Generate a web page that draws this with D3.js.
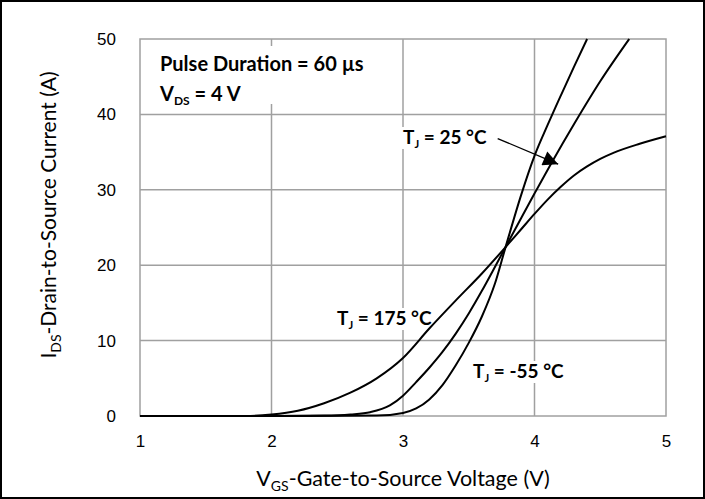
<!DOCTYPE html>
<html>
<head>
<meta charset="utf-8">
<script src="https://cdn.jsdelivr.net/npm/d3@7"></script>
<style>
  body { margin: 0; background: #fff; }
  text { fill: #000; }
</style>
</head>
<body>
<div id="chart"></div>
<script>
// tick values
const xTicks = [1, 2, 3, 4, 5];
const yTicks = [0, 10, 20, 30, 40, 50];

// Tj = -55 C
const vgsCold = [1.0, 2.0, 2.8, 3.0, 3.1, 3.2, 3.3, 3.4, 3.5, 3.6, 3.7, 3.78, 3.9, 4.0, 4.1, 4.2, 4.3, 4.4];
const idsCold = [0, 0, 0.05, 0.4, 1.0, 2.2, 4.1, 6.7, 9.7, 13.2, 17.6, 22.4, 29.4, 34.5, 38.6, 42.5, 46.3, 50];

// Tj = 25 C
const vgsRoom = [1.0, 2.0, 2.4, 2.6, 2.75, 2.9, 3.0, 3.1, 3.2, 3.3, 3.4, 3.5, 3.6, 3.7, 3.78, 3.9, 4.0, 4.14, 4.3, 4.5, 4.72];
const idsRoom = [0, 0, 0.05, 0.2, 0.5, 1.4, 2.7, 4.5, 6.4, 8.5, 10.9, 13.6, 16.6, 19.8, 22.4, 26.3, 29.5, 33.9, 38.7, 44.4, 50];

// Tj = 175 C
const vgsHot = [1.0, 1.8, 2.0, 2.2, 2.4, 2.6, 2.8, 3.0, 3.2, 3.4, 3.6, 3.78, 3.9, 4.0, 4.1, 4.2, 4.3, 4.4, 4.5, 4.6, 4.8, 5.0];
const idsHot = [0, 0, 0.2, 0.7, 1.7, 3.1, 5.0, 7.7, 11.6, 15.3, 18.9, 22.4, 24.8, 26.8, 28.7, 30.4, 31.9, 33.1, 34.1, 34.9, 36.1, 37.1];

const W = 705, H = 499;
const margin = { top: 39, right: 39, bottom: 83, left: 140 };

const x = d3.scaleLinear().domain([1, 5]).range([margin.left, W - margin.right]);
const y = d3.scaleLinear().domain([0, 50]).range([H - margin.bottom, margin.top]);

const svg = d3.select("#chart").append("svg")
    .attr("width", W)
    .attr("height", H);

svg.append("rect")
    .attr("width", W).attr("height", H)
    .attr("fill", "#fff");

// grid
const grid = svg.append("g").attr("stroke", "#a0a0a0").attr("stroke-width", 1.5);
grid.selectAll(".vx").data(xTicks.slice(1, -1)).join("line")
    .attr("x1", d => x(d)).attr("x2", d => x(d))
    .attr("y1", y(0)).attr("y2", y(50));
grid.selectAll(".hy").data(yTicks.slice(1, -1)).join("line")
    .attr("x1", x(1)).attr("x2", x(5))
    .attr("y1", d => y(d)).attr("y2", d => y(d));
grid.append("rect")
    .attr("x", x(1)).attr("y", y(50))
    .attr("width", x(5) - x(1)).attr("height", y(0) - y(50))
    .attr("fill", "none");

// axes (labels only)
const xAxis = svg.append("g")
    .attr("transform", `translate(0,${y(0)})`)
    .call(d3.axisBottom(x).tickValues(xTicks).tickSize(0).tickPadding(19).tickFormat(d3.format("d")));
const yAxis = svg.append("g")
    .attr("transform", `translate(${x(1)},0)`)
    .call(d3.axisLeft(y).tickValues(yTicks).tickSize(0).tickPadding(24).tickFormat(d3.format("d")));
[xAxis, yAxis].forEach(a => {
    a.select(".domain").remove();
    a.selectAll("text")
        .style("font-family", "'Liberation Sans', Arial, sans-serif")
        .style("font-size", "17px")
        .attr("fill", "#000");
});

// curves
const line = d3.line()
    .x(d => x(d[0]))
    .y(d => y(d[1]))
    .curve(d3.curveMonotoneX);

const series = [
    d3.zip(vgsHot, idsHot),
    d3.zip(vgsRoom, idsRoom),
    d3.zip(vgsCold, idsCold)
];

// annotations with white background (drawn under the curves)
const labelFont = "Lato, 'Open Sans', sans-serif";
const labels = svg.append("g");
function label(px, py, main, sub, rest) {
    const g = labels.append("g");
    const t = g.append("text")
        .attr("x", px).attr("y", py)
        .style("font-family", labelFont)
        .style("font-weight", "bold")
        .style("font-size", "19px");
    t.append("tspan").text(main);
    t.append("tspan").text(sub).attr("dy", 4).style("font-size", "11px");
    t.append("tspan").text(rest).attr("dy", -4);
    const b = t.node().getBBox();
    g.insert("rect", "text")
        .attr("x", b.x - 1).attr("y", b.y + 2)
        .attr("width", b.width + 2).attr("height", b.height - 3)
        .attr("fill", "#fff");
    return g;
}

label(403, 144, "T", "J", " = 25 °C");
label(337, 325, "T", "J", " = 175 °C");
label(473, 378, "T", "J", " = -55 °C");

svg.append("g").selectAll("path").data(series).join("path")
    .attr("d", line)
    .attr("fill", "none")
    .attr("stroke", "#000")
    .attr("stroke-width", 2);

// axis titles
const titleFont = "Lato, 'Open Sans', sans-serif";
const xTitle = svg.append("text")
    .attr("x", x(3)).attr("y", 486)
    .attr("text-anchor", "middle")
    .style("font-family", titleFont)
    .style("font-size", "21.5px");
xTitle.append("tspan").text("V");
xTitle.append("tspan").text("GS").attr("dy", 5).style("font-size", "14px");
xTitle.append("tspan").text("-Gate-to-Source Voltage (V)").attr("dy", -5);

const yTitle = svg.append("text")
    .attr("transform", `translate(56,215) rotate(-90)`)
    .attr("text-anchor", "middle")
    .style("font-family", titleFont)
    .style("font-size", "21px");
yTitle.append("tspan").text("I");
yTitle.append("tspan").text("DS").attr("dy", 5).style("font-size", "14px");
yTitle.append("tspan").text("-Drain-to-Source Current (A)").attr("dy", -5);

// legend box
const legend = svg.append("g");
legend.append("rect")
    .attr("x", x(1) + 8).attr("y", y(50) + 7)
    .attr("width", 226).attr("height", 58)
    .attr("fill", "#fff");
legend.append("text")
    .attr("x", 160).attr("y", 71)
    .style("font-family", labelFont).style("font-weight", "bold").style("font-size", "20px")
    .text("Pulse Duration = 60 µs");
const vds = legend.append("text")
    .attr("x", 160).attr("y", 101)
    .style("font-family", labelFont).style("font-weight", "bold").style("font-size", "20px");
vds.append("tspan").text("V");
vds.append("tspan").text("DS").attr("dy", 4).style("font-size", "12px");
vds.append("tspan").text(" = 4 V").attr("dy", -4);

// arrow to the 25 C curve
svg.append("defs").append("marker")
    .attr("id", "arrow")
    .attr("markerUnits", "userSpaceOnUse")
    .attr("viewBox", "0 0 10 10")
    .attr("refX", 10).attr("refY", 5)
    .attr("markerWidth", 19).attr("markerHeight", 15)
    .attr("orient", "auto")
    .append("path")
    .attr("d", "M0,0 L10,5 L0,10 Z")
    .attr("fill", "#000");

svg.append("line")
    .attr("x1", x(3.72)).attr("y1", y(36.8))
    .attr("x2", x(4.18)).attr("y2", y(33.4))
    .attr("stroke", "#000")
    .attr("stroke-width", 1.3)
    .attr("marker-end", "url(#arrow)");

// outer frame
svg.append("rect")
    .attr("x", 1).attr("y", 1)
    .attr("width", W - 2).attr("height", H - 2)
    .attr("fill", "none")
    .attr("stroke", "#000")
    .attr("stroke-width", 2);
</script>
</body>
</html>
